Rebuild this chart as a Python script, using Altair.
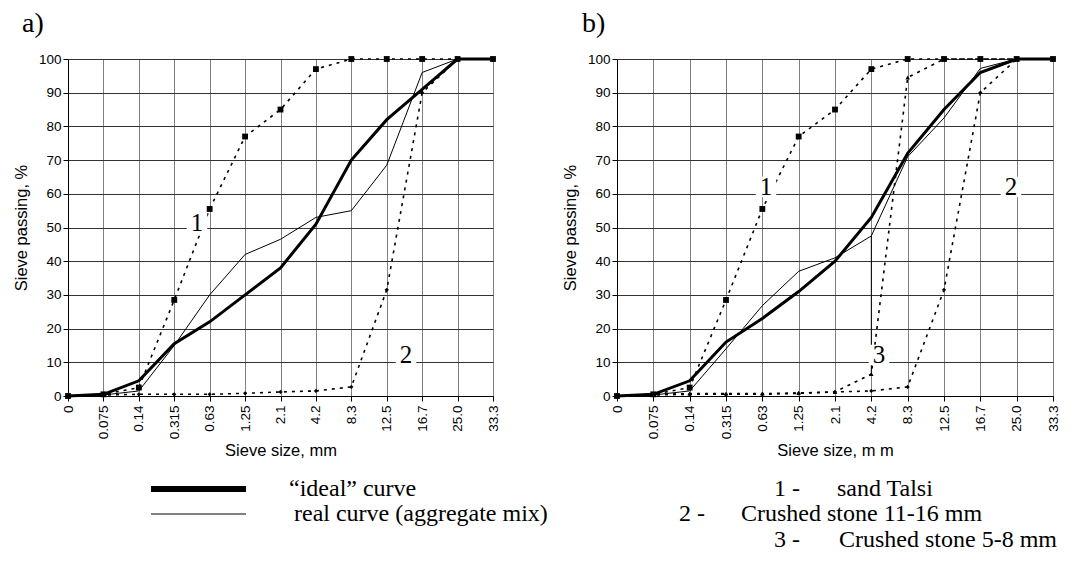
import altair as alt
import pandas as pd

sieves = ["0", "0.075", "0.14", "0.315", "0.63", "1.25", "2.1", "4.2", "8.3", "12.5", "16.7", "25.0", "33.3"]

# Panel a
a_ideal = [0, 0.5, 4.5, 15.5, 22, 30, 38, 51, 70, 82, 91, 100, 100]
a_real = [0, 0.3, 1.5, 15, 30, 42, 46.5, 53, 55, 68.5, 96, 100, 100]
a_sand = [0, 0.5, 2.5, 28.5, 55.5, 77, 85, 97, 100, 100, 100, 100, 100]
a_stone = [0, 0.3, 0.5, 0.5, 0.5, 0.8, 1.2, 1.5, 2.7, 31.5, 90, 100, 100]

# Panel b
b_ideal = [0, 0.5, 4.5, 16, 23, 31, 40, 53, 72, 85, 96, 100, 100]
b_real = [0, 0.3, 1.5, 14, 26.8, 37, 41, 47.5, 71, 82.5, 97.2, 100, 100]
b_sand = [0, 0.5, 2.5, 28.5, 55.5, 77, 85, 97, 100, 100, 100, 100, 100]
b_stone1116 = [0, 0.3, 0.5, 0.5, 0.5, 0.8, 1.2, 1.5, 2.7, 31.5, 90, 100, 100]
b_stone58 = [0, 0.5, 0.7, 0.7, 0.7, 0.9, 1.2, 6.5, 94.5, 100, 100, 100, 100]

SANS = "Liberation Sans"
SERIF = "Liberation Serif"


def df(vals):
    return pd.DataFrame({"sieve": sieves, "v": vals})


def xenc(title):
    return alt.X("sieve:O", sort=sieves, scale=alt.Scale(type="point", padding=0),
                 axis=alt.Axis(title=title, labelAngle=-90, labelFont=SANS, labelFontSize=13.5,
                               labelColor="black", titleFont=SANS, titleFontSize=16.5,
                               titleFontWeight="normal", titleColor="black",
                               gridColor="#808080", gridOpacity=1, grid=True,
                               domainColor="black", tickColor="black", tickSize=5,
                               titlePadding=4, labelPadding=4))


yenc = alt.Y("v:Q", scale=alt.Scale(domain=[0, 100], nice=False),
             axis=alt.Axis(title="Sieve passing, %", values=list(range(0, 101, 10)),
                           labelFont=SANS, labelFontSize=13.5, labelColor="black",
                           titleFont=SANS, titleFontSize=16.5, titleFontWeight="normal",
                           titleColor="black", gridColor="#333333", gridOpacity=1,
                           domainColor="black", tickColor="black", tickSize=5,
                           titlePadding=9))


def curve(vals, title, width, dash=None, marker=None, msize=30):
    kw = dict(color="black", strokeWidth=width)
    if dash:
        kw["strokeDash"] = dash
    base = alt.Chart(df(vals)).mark_line(**kw).encode(x=xenc(title), y=yenc)
    layers = [base]
    if marker:
        layers.append(alt.Chart(df(vals)).mark_point(shape=marker, filled=True, color="black",
                                                      opacity=1, size=msize)
                      .encode(x=xenc(title), y=yenc))
    return layers


def label(text, px, py):
    bg = alt.Chart(pd.DataFrame({"t": [text]})).mark_point(
        shape="square", filled=True, color="white", opacity=1, size=420
    ).encode(x=alt.value(px), y=alt.value(py))
    t = alt.Chart(pd.DataFrame({"t": [text]})).mark_text(
        font=SERIF, fontSize=25, color="black", baseline="middle", align="center"
    ).encode(x=alt.value(px), y=alt.value(py), text="t:N")
    return [bg, t]


def txt(text, px, py, size=24, align="left"):
    return alt.Chart(pd.DataFrame({"t": [text]})).mark_text(
        font=SERIF, fontSize=size, color="black", baseline="middle", align=align
    ).encode(x=alt.value(px), y=alt.value(py), text="t:N")


def seg(x1, x2, py, w):
    return alt.Chart(pd.DataFrame({"t": [0]})).mark_rule(color="black", strokeWidth=w).encode(
        x=alt.value(x1), x2=alt.value(x2), y=alt.value(py))


TA = "Sieve size, mm"
TB = "Sieve size, m m"

pa_layers = []
pa_layers += curve(a_stone, TA, 1.6, dash=[3, 5], marker="diamond", msize=18)
pa_layers += curve(a_sand, TA, 1.6, dash=[3, 5], marker="square", msize=34)
pa_layers += curve(a_real, TA, 1)
pa_layers += curve(a_ideal, TA, 3)
pa_layers += label("1", 129, 164)
pa_layers += label("2", 338, 296)
pa_layers += [txt("a)", -46, -35, size=28),
              seg(83, 178, 430, 6), seg(83, 178, 455, 1),
              txt("\u201cideal\u201d curve", 221, 430),
              txt("real curve (aggregate mix)", 226, 455)]
panel_a = alt.layer(*pa_layers).properties(width=425, height=337)

leader = alt.Chart(pd.DataFrame({"sieve": ["4.2"], "v": [6.5], "v2": [47.5]})).mark_rule(
    color="black", strokeWidth=1).encode(x=xenc(TB), y=yenc, y2="v2:Q")

pb_layers = [leader]
pb_layers += curve(b_stone58, TB, 1.6, dash=[3, 5], marker="triangle-up", msize=20)
pb_layers += curve(b_stone1116, TB, 1.6, dash=[3, 5], marker="diamond", msize=18)
pb_layers += curve(b_sand, TB, 1.6, dash=[3, 5], marker="square", msize=34)
pb_layers += curve(b_real, TB, 1)
pb_layers += curve(b_ideal, TB, 3)
pb_layers += label("1", 149, 128)
pb_layers += label("2", 394, 128)
pb_layers += label("3", 262, 296)
pb_layers += [txt("b)", -35, -35, size=28),
              txt("1 -", 157, 430), txt("sand Talsi", 220, 430),
              txt("2 -", 62, 455), txt("Crushed stone 11-16 mm", 124, 455),
              txt("3 -", 157, 481), txt("Crushed stone 5-8 mm", 222, 481)]
panel_b = alt.layer(*pb_layers).properties(width=436, height=337)

chart = alt.hconcat(panel_a, panel_b, spacing=124, bounds="flush").configure_view(
    stroke="black", strokeWidth=1).configure(background="white").properties(
    padding={"left": 4, "top": 1, "right": 5, "bottom": 5})

chart.save("out.html", embed_options={"renderer": "svg", "actions": False})
